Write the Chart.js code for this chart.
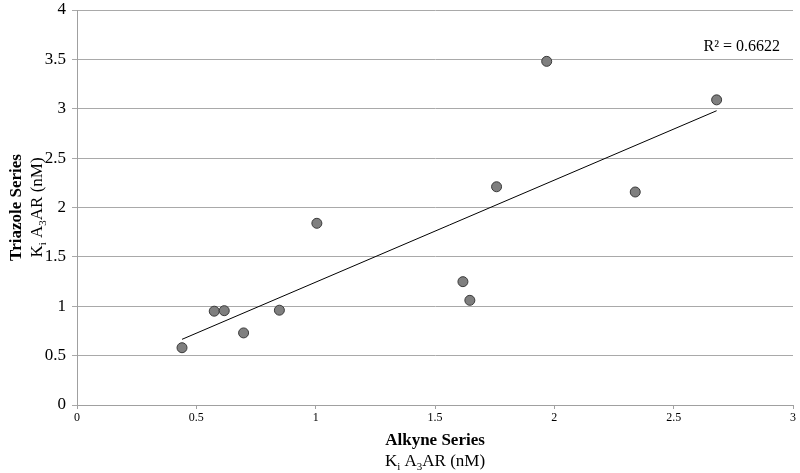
<!DOCTYPE html>
<html>
<head>
<meta charset="utf-8">
<script src="https://cdn.jsdelivr.net/npm/chart.js@4/dist/chart.umd.min.js"></script>
<style>
  html, body { margin: 0; padding: 0; background: #fff; }
  #wrap { width: 800px; height: 473px; }
</style>
</head>
<body>
<div id="wrap"><canvas id="c" width="800" height="473"></canvas></div>
<script>
// values
var alkyne   = [0.44, 0.575, 0.617, 0.698, 0.848, 1.005, 1.617, 1.646, 1.758, 1.968, 2.339, 2.68];
var triazole = [0.58, 0.95, 0.955, 0.73, 0.96, 1.84, 1.249, 1.06, 2.21, 3.48, 2.157, 3.09];
var trendX = [0.44, 2.68];
var trendY = [0.665, 2.98];
var rSquared = 'R² = 0.6622';

var points = [];
for (var i = 0; i < alkyne.length; i++) points.push({x: alkyne[i], y: triazole[i]});
var trend = [];
for (var j = 0; j < trendX.length; j++) trend.push({x: trendX[j], y: trendY[j]});

var serif = '"Liberation Serif", "Times New Roman", serif';

// draw "K" + sub "i" + " A" + sub "3" + "AR (nM)" centered at 0,0
function drawKi(ctx, size) {
  var parts = [['K', 0], ['i', 1], [' A', 0], ['3', 1], ['AR (nM)', 0]];
  var subSize = Math.round(size * 0.65);
  var w = 0;
  parts.forEach(function (p) {
    ctx.font = (p[1] ? subSize : size) + 'px ' + serif;
    w += ctx.measureText(p[0]).width;
  });
  var x = -w / 2;
  ctx.textAlign = 'left';
  parts.forEach(function (p) {
    ctx.font = (p[1] ? subSize : size) + 'px ' + serif;
    ctx.fillText(p[0], x, p[1] ? size * 0.3 : 0);
    x += ctx.measureText(p[0]).width;
  });
}

var titles = {
  id: 'titles',
  afterDraw: function (chart) {
    var ctx = chart.ctx;
    var area = chart.chartArea;
    ctx.save();
    ctx.fillStyle = '#000';
    ctx.textBaseline = 'middle';
    // x title
    var cx = (area.left + area.right) / 2;
    ctx.textAlign = 'center';
    ctx.font = 'bold 17px ' + serif;
    ctx.fillText('Alkyne Series', cx, 441);
    ctx.save();
    ctx.translate(cx, 462);
    drawKi(ctx, 17);
    ctx.restore();
    // y title
    var cy = (area.top + area.bottom) / 2;
    ctx.save();
    ctx.translate(17, cy);
    ctx.rotate(-Math.PI / 2);
    ctx.textAlign = 'center';
    ctx.font = 'bold 17px ' + serif;
    ctx.fillText('Triazole Series', 0, 0);
    ctx.restore();
    ctx.save();
    ctx.translate(38, cy);
    ctx.rotate(-Math.PI / 2);
    drawKi(ctx, 17);
    ctx.restore();
    // R squared
    ctx.textAlign = 'right';
    ctx.font = '16px ' + serif;
    ctx.fillText(rSquared, 780, 47);
    ctx.restore();
  }
};

function plain(v) { return String(v); }

new Chart(document.getElementById('c'), {
  type: 'scatter',
  data: {
    datasets: [{
      data: points,
      pointRadius: 5,
      pointHoverRadius: 5,
      pointBackgroundColor: '#7f7f7f',
      pointBorderColor: '#3a3a3a',
      pointBorderWidth: 1,
      showLine: false,
      order: 1
    }, {
      data: trend,
      showLine: true,
      borderColor: '#000',
      borderWidth: 1,
      pointRadius: 0,
      order: 2
    }]
  },
  options: {
    responsive: false,
    animation: false,
    layout: { padding: { top: 10, right: 7, left: 0, bottom: 0 } },
    plugins: { legend: { display: false }, tooltip: { enabled: false } },
    scales: {
      x: {
        type: 'linear', min: 0, max: 3,
        afterFit: function (s) { s.height = 68; s.paddingLeft = 0; s.paddingRight = 0; },
        grid: { drawOnChartArea: false, drawTicks: true, tickLength: 4, color: '#a0a0a0' },
        border: { color: '#a0a0a0' },
        ticks: { stepSize: 0.5, padding: 2, color: '#000', font: { family: serif, size: 12 }, callback: plain }
      },
      y: {
        type: 'linear', min: 0, max: 4,
        afterFit: function (s) { s.width = 77; s.paddingTop = 0; s.paddingBottom = 0; },
        grid: { color: '#a9a9a9', tickLength: 5 },
        border: { color: '#a0a0a0' },
        ticks: { stepSize: 0.5, padding: 6, color: '#000', font: { family: serif, size: 17 }, callback: plain }
      }
    }
  },
  plugins: [titles]
});
</script>
</body>
</html>
